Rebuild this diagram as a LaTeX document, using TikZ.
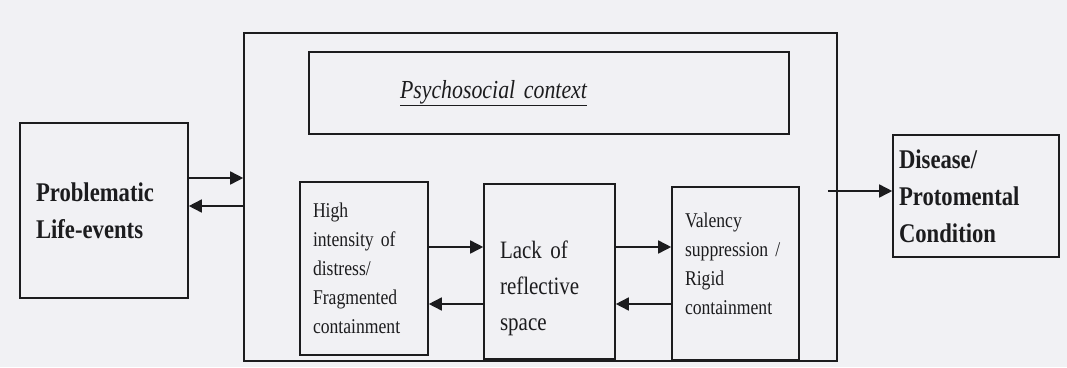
\documentclass[tikz,border=0pt]{standalone}
\usepackage{fontspec}
\setmainfont{Liberation Serif}[FakeStretch=0.84]
\usepackage{xcolor}
\usepackage{tikz}
\usetikzlibrary{positioning,arrows.meta}
\definecolor{scanbg}{RGB}{241,241,244}
\definecolor{inkdark}{RGB}{28,28,30}
\tikzset{
  box/.style={draw=inkdark, line width=1.6pt, rectangle, inner ysep=0pt,
              align=left, text=inkdark},
  boldtxt/.style={font=\fontsize{27}{37}\selectfont\bfseries},
  smalltxt/.style={font=\fontsize{21}{29}\selectfont},
  bigtxt/.style={font=\fontsize{25}{36}\selectfont},
  arr/.style={draw=inkdark, line width=1.6pt, -{Triangle[length=13pt,width=13pt]}},
}

\begin{document}
\begin{tikzpicture}[x=1pt,y=-1pt]
\fill[scanbg] (0,0) rectangle (1067,367);
\useasboundingbox (0,0) rectangle (1067,367);

\node[box, minimum width=593, minimum height=328] (outer) at (540.5,197) {};
\node[box, font=\fontsize{26}{30}\selectfont, minimum width=480, minimum height=82,
      inner xsep=91pt, text width=298pt] (context) at (549,93)
  {\underline{\textit{Psychosocial context}}};

\node[box, boldtxt, minimum height=175, inner xsep=16pt, text width=136pt]
  (life) at (104,210.5) {Problematic\\Life-events};
\node[box, smalltxt, minimum height=173, inner xsep=13pt, text width=102pt]
  (hi) at (364,268.5) {High\\intensity of\\distress/\\Fragmented\\containment};
\node[box, bigtxt, minimum height=175, inner xsep=16pt, text width=99pt]
  (lack) at (549.5,271.5) {\rule{0pt}{52pt}Lack of\\reflective\\space};
\node[box, smalltxt, minimum height=173, inner xsep=13pt, text width=101pt]
  (val) at (735.5,273.5) {Valency\\suppression /\\Rigid\\containment\rule[-20pt]{0pt}{20pt}};
\node[box, boldtxt, minimum height=122, inner xsep=6pt, text width=154pt]
  (dis) at (976,196) {Disease/\\Protomental\\Condition};

\coordinate (r1) at (0,178);
\coordinate (r2) at (0,206);
\coordinate (r3) at (0,247);
\coordinate (r4) at (0,304);
\coordinate (r5) at (0,191);

\draw[arr] (life.east |- r1) -- (outer.west |- r1);
\draw[arr] (outer.west |- r2) -- (life.east |- r2);
\foreach \a/\b in {hi/lack, lack/val}
{
  \draw[arr] (\a.east |- r3) -- (\b.west |- r3);
  \draw[arr] (\b.west |- r4) -- (\a.east |- r4);
}
\draw[arr] ([xshift=-10pt]outer.east |- r5) -- (dis.west |- r5);
\end{tikzpicture}
\end{document}
